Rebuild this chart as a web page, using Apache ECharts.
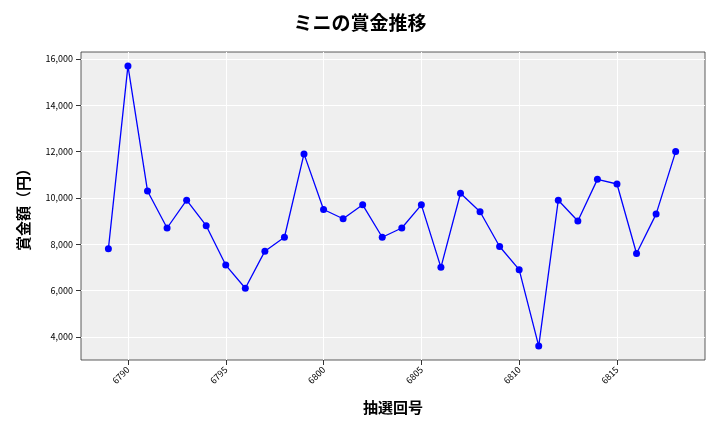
<!DOCTYPE html>
<html>
<head>
<meta charset="utf-8">
<script src="https://cdn.jsdelivr.net/npm/echarts@6/dist/echarts.min.js"></script>
<style>html,body,#c{margin:0;width:720px;height:432px;}</style>
</head>
<body>
<div id="c"></div>
<script>
const draws = [6789,6790,6791,6792,6793,6794,6795,6796,6797,6798,6799,6800,6801,6802,6803,6804,6805,6806,6807,6808,6809,6810,6811,6812,6813,6814,6815,6816,6817,6818];
const prizes = [7800,15700,10300,8700,9900,8800,7100,6100,7700,8300,11900,9500,9100,9700,8300,8700,9700,7000,10200,9400,7900,6900,3600,9900,9000,10800,10600,7600,9300,12000];
const xTicks = [6790,6795,6800,6805,6810,6815];
const yTicks = [4000,6000,8000,10000,12000,14000,16000];

const font = '"Noto Sans CJK JP", sans-serif';
const chart = echarts.init(document.getElementById('c'));
chart.setOption({
  animation: false,
  title: {text: 'ミニの賞金推移', left: 'center', top: 8,
    textStyle: {fontFamily: font, fontSize: 19, fontWeight: 'bold', color: '#000'}},
  grid: {left: 81, right: 15, top: 52, bottom: 72, backgroundColor: '#efefef', show: true, borderWidth: 0.8, borderColor: '#333'},
  xAxis: {type: 'value', min: 6787.6, max: 6819.5,
    name: '抽選回号', nameLocation: 'middle', nameGap: 40,
    nameTextStyle: {fontFamily: font, fontSize: 15, fontWeight: 'bold', color: '#000'},
    axisLine: {show: false},
    axisTick: {show: true, customValues: xTicks, lineStyle: {color: '#333'}},
    axisLabel: {customValues: xTicks, rotate: 45, fontSize: 9, color: '#000', fontFamily: font,
      formatter: v => String(v)},
    splitLine: {show: true, lineStyle: {color: '#fff', width: 1}}},
  yAxis: {type: 'value', min: 3000, max: 16300,
    name: '賞金額（円）', nameLocation: 'middle', nameGap: 50,
    nameTextStyle: {fontFamily: font, fontSize: 15, fontWeight: 'bold', color: '#000'},
    axisLine: {show: false},
    axisTick: {show: true, customValues: yTicks, lineStyle: {color: '#333'}},
    axisLabel: {customValues: yTicks, fontSize: 9, color: '#000', fontFamily: font,
      formatter: v => v.toLocaleString('en-US')},
    splitLine: {show: true, lineStyle: {color: '#fff', width: 1}}},
  series: [{type: 'line', data: draws.map((d, i) => [d, prizes[i]]),
    symbol: 'circle', symbolSize: 7,
    lineStyle: {color: '#0000ff', width: 1.3}, itemStyle: {color: '#0000ff'}}]
});
</script>
</body>
</html>
